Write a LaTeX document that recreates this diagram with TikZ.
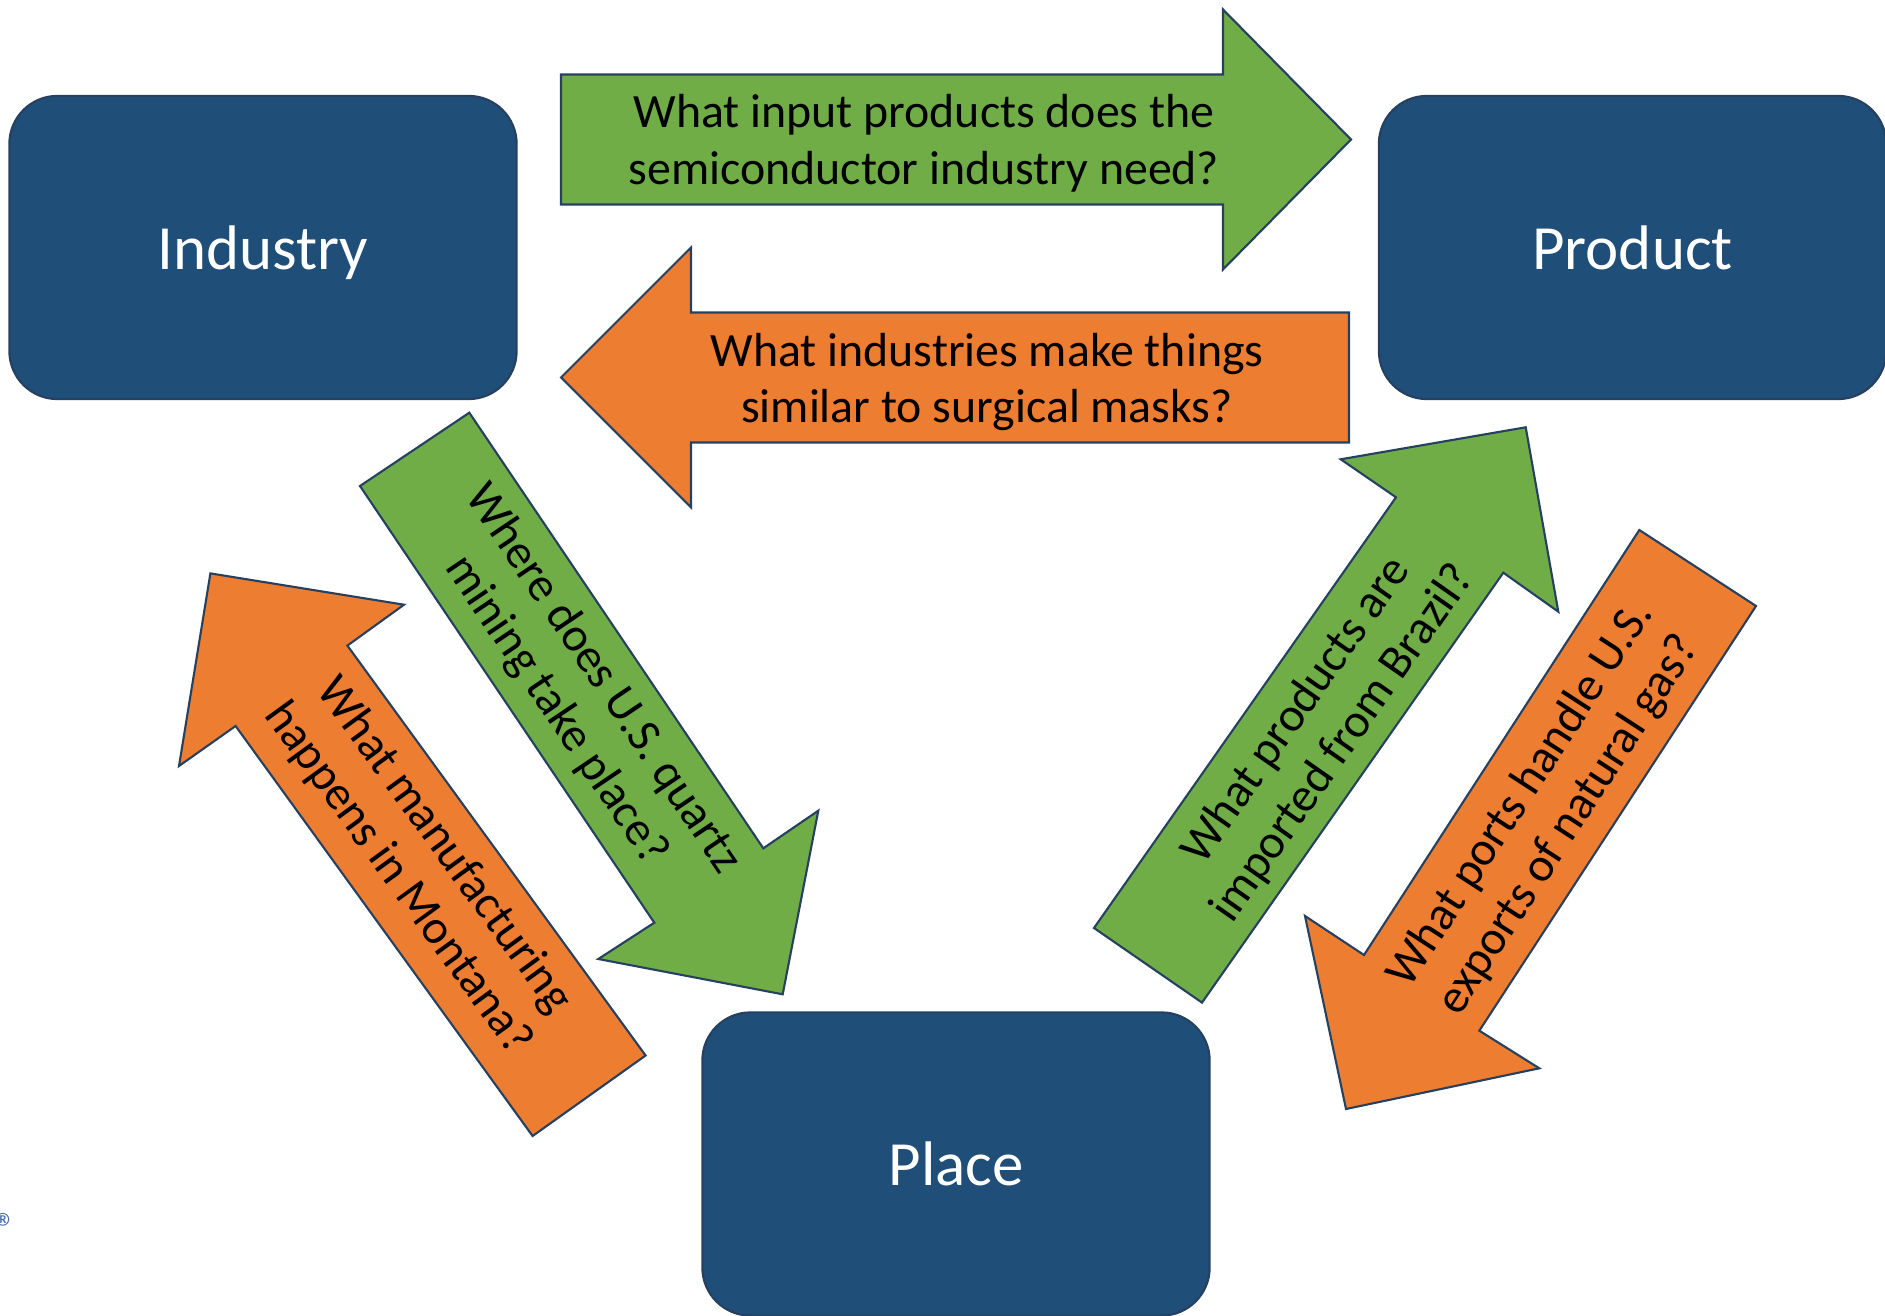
\documentclass[tikz,border=0pt]{standalone}
\usepackage{fontspec}
\setmainfont{Carlito}
\usepackage{tikz}
\definecolor{boxblue}{RGB}{31,78,121}
\definecolor{qgreen}{RGB}{112,173,71}
\definecolor{qorange}{RGB}{237,125,49}
\definecolor{edgeblue}{RGB}{38,64,96}
\definecolor{markblue}{RGB}{74,106,168}
\newcommand*{\qfont}{\fontsize{13.6}{16.1}\selectfont}
\newcommand*{\boxfont}{\fontsize{17.9}{21}\selectfont}

\begin{document}
\begin{tikzpicture}[x=0.01cm,y=-0.01cm,
    topic/.style={draw=edgeblue,line width=0.6pt,fill=boxblue,text=white,font=\boxfont,text depth=0pt,
                  rounded corners=0.48cm,minimum width=5.07cm,minimum height=3.03cm},
    greenarrow/.style={draw=edgeblue,line width=0.6pt,fill=qgreen,line join=miter},
    orangearrow/.style={draw=edgeblue,line width=0.6pt,fill=qorange,line join=miter},
    question/.style={font=\qfont,align=center,text=black}]
\useasboundingbox (0,0) rectangle (1885,1316);
                        \node[topic] (industry) at (263,247.5) {Industry};
                        \node[topic] (product) at (1632.5,247.5) {Product};
                        \node[topic] (place) at (956,1164) {Place};
                        % Industry -> Product
                        \draw[greenarrow] (561,74.5)--(1223,74.5)--(1223,9.5)--(1351,139.5)--(1223,269.5)--(1223,204.5)--(561,204.5)--cycle;
                        \node[question] (inputq) at (924,143.5) {What input products does the\\semiconductor industry need?};
                        % Product -> Industry
                        \draw[orangearrow] (1349,312.5)--(691,312.5)--(691,247.5)--(561,377.5)--(691,507.5)--(691,442.5)--(1349,442.5)--cycle;
                        \node[question] (masksq) at (987,382) {What industries make things\\similar to surgical masks?};
                        % Industry -> Place
                        \draw[greenarrow] (360,486)--(654.3,922.7)--(598.3,959)--(782.7,994.3)--(818.3,810.7)--(763.3,848.3)--(469.3,412.7)--cycle;
                        \node[question,rotate=-56] (quartzq) at (579.5,695) {Where does U.S. quartz\\mining take place?};
                        % Place -> Industry
                        \draw[orangearrow] (532.6,1136)--(235.6,726)--(179,766)--(210.4,573.4)--(404,604.7)--(347.4,645.6)--(645.6,1055.5)--cycle;
                        \node[question,rotate=-54] (montanaq) at (421,862) {What manufacturing\\happens in Montana?};
                        % Place -> Product
                        \draw[greenarrow] (1094,928)--(1396,497.3)--(1340.7,459.3)--(1525.7,427.3)--(1558.3,611.7)--(1503.3,572.7)--(1202,1002.6)--cycle;
                        \node[question,rotate=55] (brazilq) at (1320,727) {What products are\\imported from Brazil?};
                        % Product -> Place
                        \draw[orangearrow] (1639.3,530)--(1364,955)--(1305,916)--(1346,1109)--(1539.3,1068.3)--(1479.3,1030.7)--(1756,606)--cycle;
                        \node[question,rotate=57] (portsq) at (1545,810) {What ports handle U.S.\\exports of natural gas?};
                        \node[text=markblue,font=\fontsize{12}{12}\selectfont,inner sep=0pt] (regmark) at (6,1228) {\textregistered};
                    \end{tikzpicture}
\end{document}
